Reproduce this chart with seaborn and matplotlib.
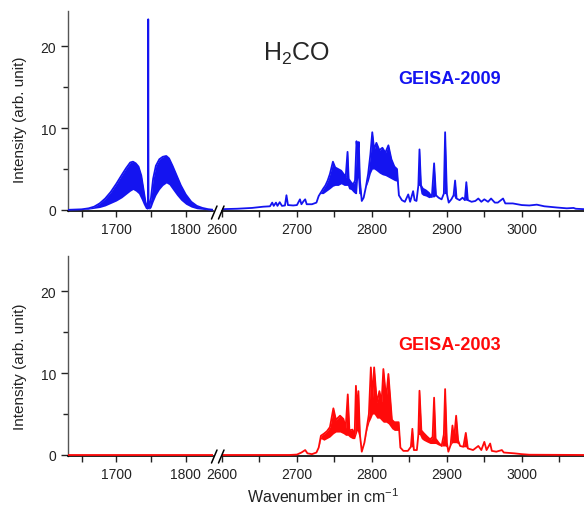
import matplotlib
matplotlib.use("Agg")
import matplotlib.pyplot as plt
from matplotlib.lines import Line2D
from matplotlib.ticker import MultipleLocator
import seaborn as sns

# H2CO spectrum, GEISA-2009, 1630-1840 cm-1 part
wn_09_left = [1631, 1650, 1660, 1668, 1676, 1684, 1692, 1700, 1708, 1714, 1720, 1724, 1728, 1732,
              1736, 1739, 1742, 1744.5, 1745.6, 1746, 1746.4, 1747.5, 1750, 1753, 1757, 1762, 1767,
              1772, 1776, 1781, 1787, 1793, 1800, 1808, 1816, 1824, 1832, 1839]
hi_09_left = [0.02, 0.08, 0.2, 0.4, 0.8, 1.4, 2.2, 3.2, 4.3, 5.1, 5.8, 5.9, 5.7, 5.3,
              4.2, 2.6, 1.0, 0.3, 0.2, 23.3, 0.2, 0.3, 1.5, 3.8, 5.4, 6.2, 6.5,
              6.6, 6.3, 5.4, 4.2, 3.0, 1.9, 1.0, 0.5, 0.25, 0.1, 0.03]
lo_09_left = [0.02, 0.05, 0.1, 0.2, 0.3, 0.5, 0.8, 1.1, 1.5, 1.9, 2.3, 2.5, 2.3, 2.0,
              1.3, 0.7, 0.2, 0.1, 0.2, 0.2, 0.2, 0.1, 0.3, 1.0, 1.8, 2.5, 3.0,
              3.3, 3.1, 2.5, 1.8, 1.2, 0.7, 0.35, 0.15, 0.08, 0.03, 0.02]

# GEISA-2009, 2600-3080 cm-1 part
wn_09_right = [2600, 2620, 2640, 2655, 2664, 2667, 2669, 2672, 2674, 2677, 2680, 2684, 2686, 2688,
               2695, 2700, 2704, 2706, 2709, 2711, 2713, 2720, 2726, 2729, 2731, 2735, 2738, 2741,
               2744, 2748, 2751, 2755, 2759, 2763, 2765, 2767.5, 2769, 2772, 2775, 2777.5, 2779.5,
               2781, 2782.5, 2784, 2786.5, 2789, 2792, 2795, 2798, 2800.5, 2803, 2806, 2810, 2814,
               2818, 2822, 2826, 2830, 2833.5, 2836, 2840, 2844, 2848.5, 2851, 2855, 2857, 2859.5,
               2862, 2863.5, 2865.5, 2868, 2872, 2876, 2880, 2883, 2885.5, 2889, 2893, 2896, 2897.7,
               2900, 2902.5, 2906, 2909, 2911, 2913, 2917, 2921, 2924, 2926, 2928, 2933, 2938, 2942,
               2946, 2950, 2955, 2959, 2964, 2968, 2975, 2978, 2988, 3000, 3010, 3020, 3030, 3047,
               3060, 3069, 3072, 3083]
hi_09_right = [0.1, 0.15, 0.25, 0.4, 0.45, 0.9, 0.5, 0.9, 0.5, 0.95, 0.5, 0.55, 1.8, 0.6,
               0.55, 0.6, 1.3, 0.7, 1.1, 1.3, 0.7, 0.7, 0.9, 1.7, 2.0, 2.6, 3.0, 3.6,
               4.4, 5.9, 5.2, 5.0, 4.8, 4.3, 4.0, 7.1, 3.8, 3.4, 3.1, 3.6, 8.4,
               7.0, 8.3, 3.6, 1.1, 1.5, 2.8, 4.4, 6.8, 9.5, 7.4, 8.2, 7.3, 7.6,
               7.0, 7.9, 6.2, 5.3, 5.0, 1.8, 1.2, 1.0, 1.9, 1.0, 2.3, 1.2, 1.1,
               3.0, 7.4, 3.0, 2.6, 2.4, 2.1, 1.6, 5.7, 1.8, 1.5, 1.3, 2.0, 9.5,
               2.0, 0.9, 1.3, 1.8, 3.6, 1.4, 1.2, 1.5, 1.2, 3.4, 1.2, 1.0, 1.1, 1.4,
               1.0, 1.3, 1.0, 1.4, 0.9, 0.9, 1.4, 0.8, 0.8, 0.6, 0.55, 0.65, 0.45, 0.3,
               0.2, 0.25, 0.15, 0.1]
lo_09_right = [0.1, 0.15, 0.25, 0.4, 0.45, 0.9, 0.5, 0.9, 0.5, 0.95, 0.5, 0.55, 1.8, 0.6,
               0.55, 0.6, 1.3, 0.7, 1.1, 1.3, 0.7, 0.7, 0.9, 1.7, 2.0, 2.0, 2.2, 2.4,
               2.6, 2.9, 3.0, 3.0, 3.2, 3.0, 3.0, 3.0, 2.6, 2.5, 2.2, 2.0, 2.0,
               4.0, 2.0, 2.0, 1.1, 1.5, 2.8, 3.5, 4.5, 5.0, 5.0, 4.8, 4.5, 4.3,
               4.2, 4.0, 3.8, 3.6, 3.5, 1.8, 1.2, 1.0, 1.9, 1.0, 2.3, 1.2, 1.1,
               3.0, 3.0, 2.0, 1.8, 1.7, 1.5, 1.6, 1.6, 1.8, 1.5, 1.3, 2.0, 2.0,
               2.0, 0.9, 1.3, 1.8, 1.4, 1.4, 1.2, 1.5, 1.2, 1.2, 1.2, 1.0, 1.1, 1.4,
               1.0, 1.3, 1.0, 1.4, 0.9, 0.9, 1.4, 0.8, 0.8, 0.6, 0.55, 0.65, 0.45, 0.3,
               0.2, 0.25, 0.15, 0.1]

# GEISA-2003: nothing in the 1630-1840 cm-1 part
wn_03_left = [1631, 1839]
hi_03_left = [0.0, 0.0]

wn_03_right = [2600, 2690, 2700, 2706, 2711, 2714, 2720, 2726, 2729, 2732, 2736, 2740, 2744, 2748.6,
               2752, 2757.5, 2762, 2765, 2767.8, 2770, 2774, 2777, 2778.7, 2780.5, 2782, 2784,
               2786.5, 2790, 2793, 2796, 2798.6, 2800.8, 2803, 2806.6, 2810, 2813, 2815.3, 2819,
               2822, 2826.7, 2830, 2835.7, 2838, 2842, 2848, 2852, 2854, 2856, 2860, 2862, 2863.5,
               2866, 2868.8, 2873, 2877.7, 2881, 2883, 2885, 2889, 2893, 2896, 2897.7, 2900, 2902,
               2905, 2907.5, 2909.5, 2912.4, 2915, 2917.7, 2922, 2925.3, 2928, 2935, 2942, 2946,
               2950, 2953, 2957.8, 2960, 2966, 2973.4, 2976, 2990, 3000, 3010, 3083]
hi_03_right = [0.0, 0.0, 0.05, 0.3, 0.6, 0.2, 0.1, 0.3, 0.9, 2.35, 2.6, 2.9, 3.4, 5.7,
               4.3, 4.8, 4.4, 3.3, 7.4, 3.0, 3.1, 2.5, 8.45, 5.0, 7.8, 2.5,
               0.4, 1.5, 3.2, 5.0, 10.7, 7.0, 10.7, 6.4, 7.8, 6.5, 10.5, 6.9,
               9.9, 4.3, 4.0, 4.0, 0.9, 0.5, 0.5, 1.0, 3.2, 0.6, 0.6, 2.5, 7.85,
               3.0, 2.7, 2.3, 1.9, 2.2, 7.0, 2.0, 1.5, 1.1, 2.5, 8.05, 1.5, 0.4,
               1.2, 3.6, 1.8, 4.8, 1.8, 1.1, 1.0, 2.7, 0.8, 0.6, 1.1, 0.6,
               1.6, 0.6, 1.4, 0.5, 0.4, 0.6, 0.3, 0.2, 0.1, 0.03, 0.0]
lo_03_right = [0.0, 0.0, 0.05, 0.3, 0.6, 0.2, 0.1, 0.3, 0.9, 2.0, 1.8, 2.0, 2.2, 2.6,
               2.8, 2.8, 2.6, 2.4, 2.4, 2.2, 2.0, 2.0, 2.5, 3.0, 2.5, 2.0,
               0.4, 1.5, 3.0, 4.0, 4.5, 5.0, 5.0, 4.5, 4.5, 4.2, 4.0, 4.0,
               3.8, 3.2, 3.0, 3.0, 0.9, 0.5, 0.5, 1.0, 1.0, 0.6, 0.6, 2.5, 2.5,
               2.0, 1.8, 1.6, 1.4, 1.4, 1.4, 1.4, 1.2, 1.1, 1.1, 1.1, 1.0, 0.4,
               1.2, 1.5, 1.5, 1.5, 1.4, 1.1, 1.0, 1.0, 0.8, 0.6, 1.1, 0.6,
               1.6, 0.6, 1.4, 0.5, 0.4, 0.6, 0.3, 0.2, 0.1, 0.03, 0.0]

BLUE = "#1414f0"
RED = "#ff0a0a"

sns.set_style("ticks")
plt.rcParams["font.family"] = ["Liberation Sans", "DejaVu Sans"]
plt.rcParams["mathtext.fontset"] = "custom"
plt.rcParams["mathtext.rm"] = "Liberation Sans"
plt.rcParams["mathtext.it"] = "Liberation Sans:italic"

fig = plt.figure(figsize=(5.84, 5.10), dpi=100)

W, H = 584.0, 510.0
YLIM = (-0.15, 24.35)


def make_axes(bottom_px, top_px):
    b = 1 - bottom_px / H
    h = (bottom_px - top_px) / H
    ax_l = fig.add_axes([68 / W, b, 145 / W, h])
    ax_r = fig.add_axes([222 / W, b, 362 / W, h])
    ax_l.set_xlim(1630.4, 1839.3)
    ax_r.set_xlim(2600, 3083)
    for ax in (ax_l, ax_r):
        ax.set_ylim(*YLIM)
        ax.set_facecolor("none")
        for s in ("top", "right"):
            ax.spines[s].set_visible(False)
        ax.spines["bottom"].set_color("black")
        ax.spines["bottom"].set_linewidth(1.2)
        ax.xaxis.set_major_locator(MultipleLocator(100))
        ax.xaxis.set_minor_locator(MultipleLocator(50))
        ax.tick_params(axis="x", which="both", direction="out", length=4, width=1,
                       labelsize=10, colors="#222222", pad=4)
        ax.set_xlabel("")
        ax.set_ylabel("")
    ax_l.spines["left"].set_color("#555555")
    ax_l.spines["left"].set_linewidth(1.0)
    ax_l.yaxis.set_major_locator(MultipleLocator(10))
    ax_l.yaxis.set_minor_locator(MultipleLocator(5))
    ax_l.tick_params(axis="y", which="major", direction="out", length=5, width=1,
                     labelsize=10, colors="#222222")
    ax_l.tick_params(axis="y", which="minor", direction="out", length=3.5, width=1,
                     colors="#222222")
    ax_r.spines["left"].set_visible(False)
    ax_r.tick_params(axis="y", which="both", left=False, labelleft=False)
    return ax_l, ax_r


def draw(ax, wn, hi, lo, color):
    if lo is not None:
        ax.fill_between(wn, lo, hi, color=color, lw=0, zorder=3)
    sns.lineplot(x=wn, y=hi, ax=ax, color=color, linewidth=1.3, estimator=None,
                 sort=False, zorder=4)
    ax.set_xlabel("")
    ax.set_ylabel("")


def break_marks(y_px):
    for x0 in (211.5, 218.5):
        fig.add_artist(Line2D([x0 / W, (x0 + 5.5) / W],
                              [1 - (y_px + 7) / H, 1 - (y_px - 6) / H],
                              color="black", lw=1.1))


ax09_l, ax09_r = make_axes(212.2, 11.7)
draw(ax09_l, wn_09_left, hi_09_left, lo_09_left, BLUE)
draw(ax09_r, wn_09_right, hi_09_right, lo_09_right, BLUE)
break_marks(213)

ax03_l, ax03_r = make_axes(457.2, 256.7)
draw(ax03_l, wn_03_left, hi_03_left, None, RED)
draw(ax03_r, wn_03_right, hi_03_right, lo_03_right, RED)
break_marks(457)

fig.text(263 / W, 1 - 61 / H, r"H$_2$CO", fontsize=18, va="baseline", ha="left")
fig.text(450 / W, 1 - 80 / H, "GEISA-2009", fontsize=13, fontweight="bold",
         color=BLUE, ha="center", va="center")
fig.text(450 / W, 1 - 346 / H, "GEISA-2003", fontsize=13, fontweight="bold",
         color=RED, ha="center", va="center")
for yc in (120, 367):
    fig.text(20.5 / W, 1 - yc / H, "Intensity (arb. unit)", rotation=90, fontsize=11,
             ha="center", va="center", color="#222222")
fig.text(323 / W, 1 - 497 / H, r"Wavenumber in cm$^{-1}$", fontsize=11.5,
         ha="center", va="center", color="#222222")

fig.savefig("out.png", dpi=100)
